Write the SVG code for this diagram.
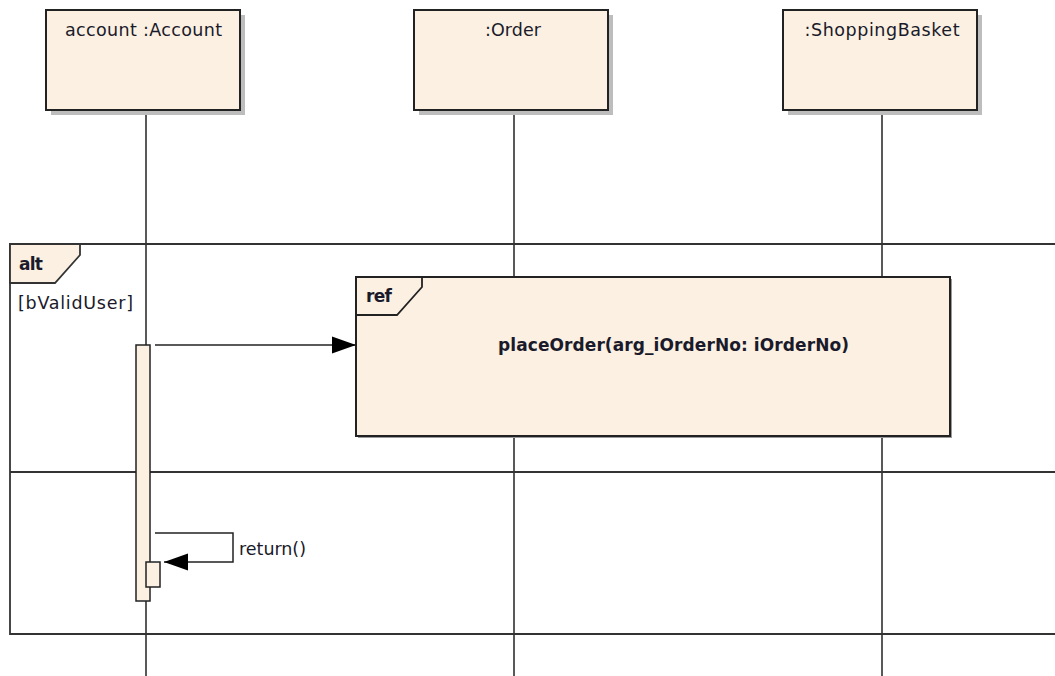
<svg xmlns="http://www.w3.org/2000/svg" width="1055" height="676" viewBox="0 0 1055 676">
<style>
.box{fill:#FBF0E2;stroke:#222;stroke-width:2}
.shadow{fill:#BDBDBD}
.line{stroke:#222;stroke-width:1.5;fill:none}
.frame{fill:none;stroke:#333;stroke-width:1.8}
.t{font-family:"DejaVu Sans","Liberation Sans",Arial,sans-serif;font-size:17.5px;fill:#1a1a2a}
.b{font-family:"DejaVu Sans","Liberation Sans",Arial,sans-serif;font-size:17px;font-weight:bold;fill:#1a1a2a}
</style>
<defs>
<marker id="arr" markerWidth="26" markerHeight="18" refX="24" refY="9" orient="auto" markerUnits="userSpaceOnUse">
<path d="M0,0.5 L24,9 L0,17.5 Z" fill="#000"/>
</marker>
</defs>
<rect width="1055" height="676" fill="#fff"/>
<g id="lifelines">
<line class="line" x1="146" y1="110" x2="146" y2="676"/>
<line class="line" x1="514" y1="110" x2="514" y2="676"/>
<line class="line" x1="882" y1="110" x2="882" y2="676"/>
</g>
<g id="node-account">
<rect class="shadow" x="51" y="15" width="194" height="100"/>
<rect class="box" x="46" y="10" width="194" height="100"/>
<text class="t" x="143.5" y="36" text-anchor="middle" textLength="157">account :Account</text>
</g>
<g id="node-order">
<rect class="shadow" x="419" y="15" width="194" height="100"/>
<rect class="box" x="414" y="10" width="194" height="100"/>
<text class="t" x="513" y="36" text-anchor="middle" textLength="56">:Order</text>
</g>
<g id="node-basket">
<rect class="shadow" x="788" y="15" width="194" height="100"/>
<rect class="box" x="783" y="10" width="194" height="100"/>
<text class="t" x="882" y="36" text-anchor="middle" textLength="155">:ShoppingBasket</text>
</g>
<g id="frame-alt">
<path class="frame" d="M1060,244 L10,244 L10,634 L1060,634"/>
<line class="frame" x1="10" y1="472" x2="1060" y2="472"/>
<path d="M10,244 L80,244 L80,255 L55,283 L10,283 Z" fill="#FBF0E2" stroke="#333" stroke-width="1.8"/>
<text class="b" x="19" y="270" textLength="24">alt</text>
<text class="t" x="18" y="309" textLength="115">[bValidUser]</text>
</g>
<g id="activation-account">
<rect class="box" x="136" y="345" width="14" height="256" style="stroke-width:1.5"/>
<rect class="box" x="146" y="562" width="14" height="25" style="stroke-width:1.5"/>
</g>
<g id="frame-ref">
<rect x="358" y="279" width="594" height="159" fill="#9a9a9a"/>
<rect class="box" x="356" y="277" width="594" height="159"/>
<path d="M356,277 L422,277 L422,287 L397,315 L356,315" fill="none" stroke="#222" stroke-width="1.8"/>
<text class="b" x="366" y="302" textLength="26">ref</text>
<text class="b" x="673.5" y="351" text-anchor="middle" textLength="351">placeOrder(arg_iOrderNo: iOrderNo)</text>
</g>
<g id="connectors">
<line class="line" x1="155" y1="345" x2="356" y2="345" marker-end="url(#arr)"/>
<path class="line" d="M155,533 L233,533 L233,562 L164,562" marker-end="url(#arr)"/>
<text class="t" x="239" y="555" textLength="67">return()</text>
</g>
</svg>
